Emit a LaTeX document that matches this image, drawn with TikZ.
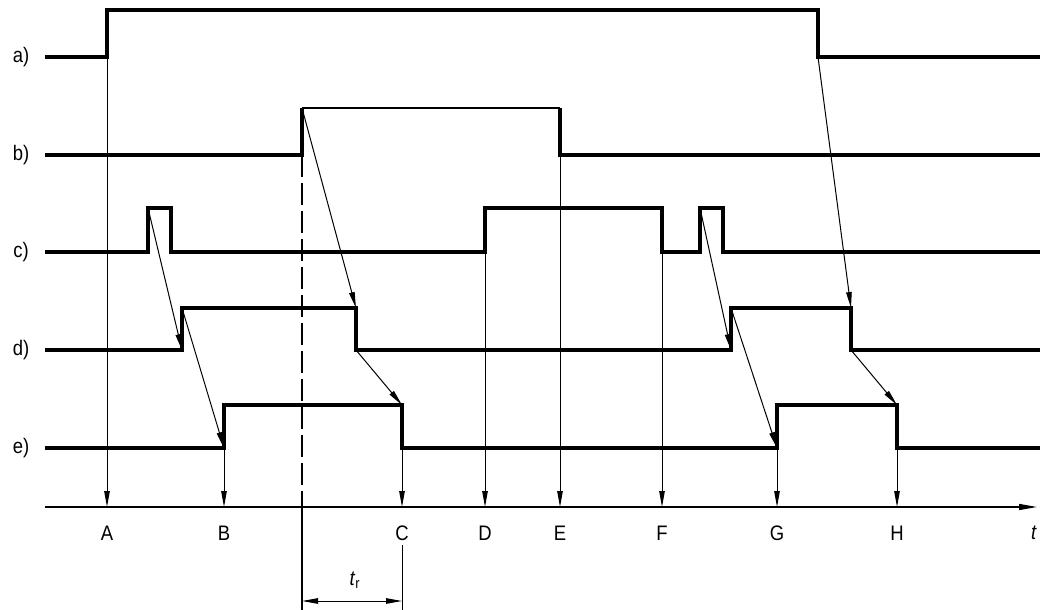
\documentclass[tikz,border=0pt]{standalone}
\usepackage{fontspec}
\setmainfont[FakeStretch=0.88]{Liberation Sans}
\usepackage{tikz}
\usetikzlibrary{arrows.meta}

\begin{document}
\begin{tikzpicture}[
  x=1pt, y=-1pt,
  sig/.style={line width=3.3pt, line join=miter},
  sigtop/.style={line width=1.8pt},
  link/.style={line width=1pt, -{Triangle[length=16pt,width=5.5pt]}},
  axisline/.style={line width=1.4pt, -{Triangle[length=18pt,width=6pt]}},
  refline/.style={line width=1.6pt, dash pattern=on 22pt off 6pt},
  dimline/.style={line width=1pt, {Triangle[length=16pt,width=5.5pt]}-{Triangle[length=16pt,width=5.5pt]}},
  lbl/.style={font=\fontsize{21}{24}\selectfont, inner sep=0pt},
  tick/.style={lbl, anchor=center}
]
\useasboundingbox (0,0) rectangle (1041,610);

% row labels
\node[lbl] (la) at (21,57) {a)};
\node[lbl] (lb) at (21,155) {b)};
\node[lbl] (lc) at (21,252) {c)};
\node[lbl] (ld) at (21,350) {d)};
\node[lbl] (le) at (21,448) {e)};

% switching points
\coordinate (aUp) at (107,57);
\coordinate (aDn) at (818,57);
\coordinate (bUp) at (302,108);
\coordinate (bLow) at (302,155);
\coordinate (bDn) at (560,155);
\coordinate (cP1) at (148,208);
\coordinate (cUp) at (485,252);
\coordinate (cDn) at (662,252);
\coordinate (cP2) at (700,208);
\coordinate (dUp1) at (182,350);
\coordinate (dTop1) at (182,308);
\coordinate (dDn1) at (356,308);
\coordinate (dLow1) at (356,350);
\coordinate (dUp2) at (731,350);
\coordinate (dTop2) at (731,308);
\coordinate (dDn2) at (851,308);
\coordinate (dLow2) at (851,350);
\coordinate (eUp1) at (224,448);
\coordinate (eDn1) at (402,405);
\coordinate (eLow1) at (402,448);
\coordinate (eUp2) at (777,448);
\coordinate (eDn2) at (897,405);
\coordinate (eLow2) at (897,448);

% signals
\draw[sig] (45,57) -- (107,57) -- (107,10) -- (818,10) -- (818,57) -- (1040,57);
\draw[sig] (45,155) -- (302,155) -- (302,108);
\draw[sigtop] (302,108) -- (560,108);
\draw[sig] (560,108) -- (560,155) -- (1040,155);
\draw[sig] (45,252) -- (148,252) -- (148,208) -- (171,208) -- (171,252) -- (485,252)
  -- (485,208) -- (662,208) -- (662,252) -- (700,252) -- (700,208) -- (723,208)
  -- (723,252) -- (1040,252);
\draw[sig] (45,350) -- (182,350) -- (182,308) -- (356,308) -- (356,350) -- (731,350)
  -- (731,308) -- (851,308) -- (851,350) -- (1040,350);
\draw[sig] (45,448) -- (224,448) -- (224,405) -- (402,405) -- (402,448) -- (777,448)
  -- (777,405) -- (897,405) -- (897,448) -- (1040,448);

% time axis
\coordinate (t0) at (45,507);
\coordinate (tEnd) at (1037,507);
\draw[axisline] (t0) -- (tEnd);
\foreach \name/\x in {A/107, B/224, C/402, D/485, E/560, F/662, G/777, H/897}
  \coordinate (p\name) at (\x,507);
\foreach \name/\x in {A/107, B/224, C/402, D/485, E/560, F/662, G/777, H/897}
  \node[tick] (n\name) at (\x,533) {\name};
\node[tick] (nt) at (1034,533) {\textit{t}};

% drops to the axis
\draw[link] (aUp) -- (pA);
\draw[link] (eUp1) -- (pB);
\draw[link] (eLow1) -- (pC);
\draw[link] (cUp) -- (pD);
\draw[link] (bDn) -- (pE);
\draw[link] (cDn) -- (pF);
\draw[link] (eUp2) -- (pG);
\draw[link] (eLow2) -- (pH);

% causes
\draw[link] (cP1) -- (dUp1);
\draw[link] (dTop1) -- (eUp1);
\draw[link] (bUp) -- (dDn1);
\draw[link] (dLow1) -- (eDn1);
\draw[link] (cP2) -- (dUp2);
\draw[link] (dTop2) -- (eUp2);
\draw[link] (aDn) -- (dDn2);
\draw[link] (dLow2) -- (eDn2);

% reference line and t_r
\coordinate (refEnd) at (302,610);
\coordinate (cExt0) at (402,545);
\coordinate (cExt1) at (402,610);
\draw[refline] (bLow) -- (302,507);
\draw[line width=1.4pt] (302,507) -- (refEnd);
\draw[line width=1pt] (cExt0) -- (cExt1);
\coordinate (tr0) at (302,601);
\coordinate (tr1) at (402,601);
\draw[dimline] (tr0) -- (tr1);
\node[lbl] (ntr) at (355,580) {\textit{t}\textsubscript{r}};
\end{tikzpicture}
\end{document}
